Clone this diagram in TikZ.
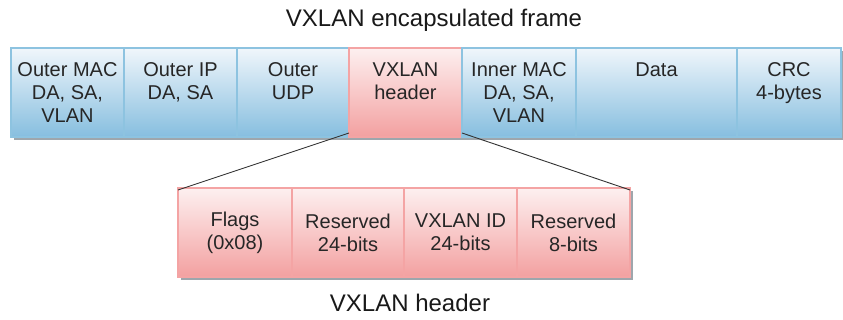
\documentclass[tikz,border=0pt]{standalone}
\usepackage{fontspec}
\setmainfont{Liberation Sans}
\begin{document}
\begin{tikzpicture}[x=1pt,y=-1pt,
  boxbase/.style={rectangle, inner sep=0pt, outer sep=0pt, anchor=north west, line width=1.2pt},
  bluebox/.style={boxbase, top color=blueTop, bottom color=blueBot, draw=blueLine},
  pinkbox/.style={boxbase, top color=pinkTop, bottom color=pinkBot, draw=pinkLine},
  lbl/.style={font=\fontsize{20}{23}\selectfont, align=center, inner sep=0pt, text=black!85},
  ttl/.style={font=\fontsize{24}{28}\selectfont, inner sep=0pt, text=black!90},
  shadowbox/.style={fill=shadowGray},
  zoomline/.style={draw=black!80, line width=0.9pt}
]
\definecolor{blueTop}{HTML}{F0F6FB}
\definecolor{blueBot}{HTML}{86BEDF}
\definecolor{blueLine}{HTML}{8DC3E0}
\definecolor{pinkTop}{HTML}{FDF0F0}
\definecolor{pinkBot}{HTML}{F3A0A0}
\definecolor{pinkLine}{HTML}{F4A4A4}
\definecolor{shadowGray}{HTML}{9EA6AC}
\useasboundingbox (0,0) rectangle (843,320);

% title
\node[ttl, anchor=base] (title) at (434,27) {VXLAN encapsulated frame};

% shadows
\fill[shadowbox] (14,51) rectangle (843,140);
\fill[shadowbox] (181,191) rectangle (633,280);

% top row
\node[bluebox, minimum width=113, minimum height=89] (omac) at (11,48) {};
\node[bluebox, minimum width=113, minimum height=89] (oip) at (124,48) {};
\node[bluebox, minimum width=112, minimum height=89] (oudp) at (237,48) {};
\node[pinkbox, minimum width=113, minimum height=89] (vx) at (349,48) {};
\node[bluebox, minimum width=114, minimum height=89] (imac) at (462,48) {};
\node[bluebox, minimum width=161, minimum height=89] (data) at (576,48) {};
\node[bluebox, minimum width=104, minimum height=89] (crc) at (737,48) {};

\node[lbl, anchor=north] (tomac) at (omac.north |- 0,62.5) {Outer MAC\\DA, SA,\\VLAN};
\node[lbl, anchor=north] (toip) at (oip.north |- 0,62.5) {Outer IP\\DA, SA};
\node[lbl, anchor=north] (toudp) at (oudp.north |- 0,62.5) {Outer\\UDP};
\node[lbl, anchor=north] (tvx) at (vx.north |- 0,62.5) {VXLAN\\header};
\node[lbl, anchor=north] (timac) at (imac.north |- 0,62.5) {Inner MAC\\DA, SA,\\VLAN};
\node[lbl, anchor=north] (tdata) at (data.north |- 0,62.5) {Data};
\node[lbl, anchor=north] (tcrc) at (crc.north |- 0,62.5) {CRC\\4-bytes};

% bottom row
\node[pinkbox, minimum width=114, minimum height=89] (flags) at (178,188) {};
\node[pinkbox, minimum width=112, minimum height=89] (res1) at (292,188) {};
\node[pinkbox, minimum width=113, minimum height=89] (vid) at (404,188) {};
\node[pinkbox, minimum width=113, minimum height=89] (res2) at (517,188) {};

\node[lbl] (tflags) at (flags.center) {Flags\\(0x08)};
\node[lbl] (tres1) at (res1.center) {Reserved\\24-bits};
\node[lbl] (tvid) at (vid.center) {VXLAN ID\\24-bits};
\node[lbl] (tres2) at (res2.center) {Reserved\\8-bits};

% zoom lines
\draw[zoomline] ([yshift=4]vx.south west) -- ([yshift=-2]flags.north west);
\draw[zoomline] ([yshift=4]vx.south east) -- ([yshift=-2]res2.north east);

% caption
\node[ttl, anchor=base] (cap) at (410,312) {VXLAN header};
\end{tikzpicture}
\end{document}
